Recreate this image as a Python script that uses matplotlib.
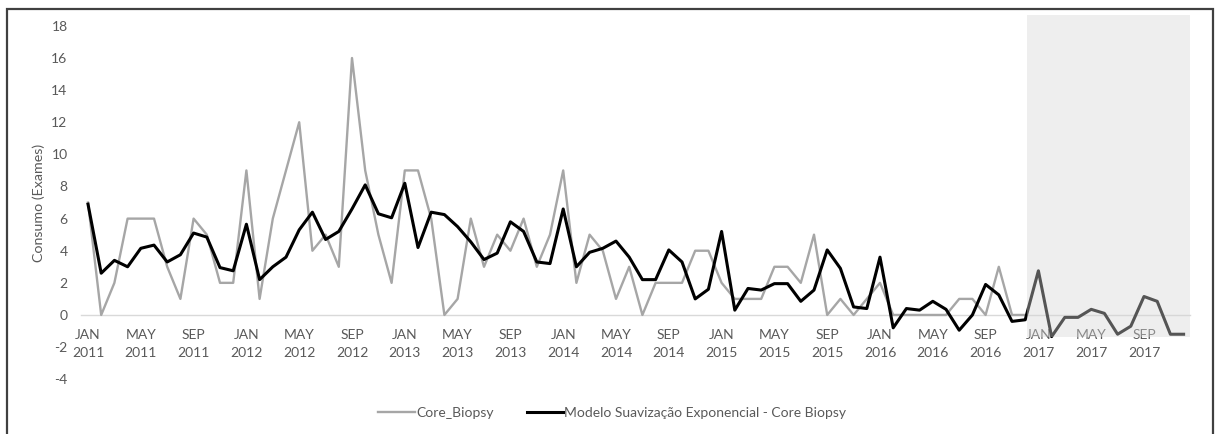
import numpy as np
import matplotlib
matplotlib.use("Agg")
import matplotlib.pyplot as plt
from matplotlib.patches import Rectangle

# monthly data, JAN 2011 .. DEC 2017
month_names = ["JAN", "FEB", "MAR", "APR", "MAY", "JUN",
               "JUL", "AUG", "SEP", "OCT", "NOV", "DEC"]
years = [2011, 2012, 2013, 2014, 2015, 2016, 2017]

# observed exams (JAN 2011 .. DEC 2016)
core_biopsy = [7, 0, 2, 6, 6, 6, 3, 1, 6, 5, 2, 2,
               9, 1, 6, 9, 12, 4, 5, 3, 16, 9, 5, 2,
               9, 9, 6, 0, 1, 6, 3, 5, 4, 6, 3, 5,
               9, 2, 5, 4, 1, 3, 0, 2, 2, 2, 4, 4,
               2, 1, 1, 1, 3, 3, 2, 5, 0, 1, 0, 1,
               2, 0, 0, 0, 0, 0, 1, 1, 0, 3, 0, 0]

# exponential smoothing model (fit JAN 2011 .. DEC 2016 + forecast 2017)
modelo = [6.9, 2.6, 3.4, 3.0, 4.15, 4.35, 3.3, 3.75, 5.1, 4.85, 2.95, 2.75,
          5.65, 2.2, 3.0, 3.6, 5.3, 6.4, 4.7, 5.2, 6.6, 8.1, 6.3, 6.05,
          8.2, 4.2, 6.4, 6.25, 5.5, 4.55, 3.45, 3.85, 5.8, 5.2, 3.3, 3.2,
          6.6, 3.0, 3.9, 4.15, 4.6, 3.6, 2.2, 2.2, 4.05, 3.3, 1.0, 1.6,
          5.2, 0.3, 1.65, 1.55, 1.95, 1.95, 0.85, 1.55, 4.05, 2.9, 0.5, 0.4,
          3.6, -0.8, 0.4, 0.3, 0.85, 0.35, -0.95, 0.0, 1.9, 1.25, -0.4, -0.3,
          2.75, -1.35, -0.15, -0.15, 0.35, 0.1, -1.2, -0.7, 1.15, 0.85, -1.2, -1.2]

y_ticks = list(range(-4, 19, 2))

font = "Lato"
fontsize = 10
font_color = "#595959"

W, H = 1215, 434
fig = plt.figure(figsize=(W / 100, H / 100), dpi=100)
fig.patch.set_facecolor("white")

# plot area placed in pixels
left_px, right_px = 81.4, 1190.2
top_px, bottom_px = 25.9, 379.2
ax = fig.add_axes([left_px / W, 1 - bottom_px / H,
                   (right_px - left_px) / W, (bottom_px - top_px) / H])

n_months = len(years) * 12
x_all = np.arange(n_months)
x_obs = np.arange(len(core_biopsy))

ax.plot(x_obs, core_biopsy, color="#A6A6A6", linewidth=1.7, zorder=3,
        label="Core_Biopsy", solid_joinstyle="round")
ax.plot(x_all[:len(modelo)], modelo, color="black", linewidth=2.2, zorder=4,
        label="Modelo Suavização Exponencial - Core Biopsy", solid_joinstyle="round")

ax.set_xlim(-0.5, n_months - 0.5)
ax.set_ylim(-4, 18)

# category axis crossing at zero
for side in ["top", "right", "left"]:
    ax.spines[side].set_visible(False)
ax.spines["bottom"].set_position(("data", 0))
ax.spines["bottom"].set_color("#D9D9D9")
ax.spines["bottom"].set_linewidth(1.0)

tick_pos = list(range(0, n_months, 4))
tick_lab = [f"{month_names[i % 12]}\n{years[i // 12]}" for i in tick_pos]
ax.set_xticks(tick_pos)
ax.set_xticklabels(tick_lab, fontsize=fontsize, family=font, color=font_color,
                   linespacing=1.65)
ax.tick_params(axis="x", length=0, pad=10)

ax.set_yticks(y_ticks)
ax.set_yticklabels([str(v) for v in y_ticks], fontsize=fontsize, family=font,
                   color=font_color)
ax.tick_params(axis="y", length=0, pad=10)

ax.set_ylabel("Consumo (Exames)", fontsize=fontsize + 0.3, family=font, color=font_color)
ax.yaxis.set_label_coords(-0.033, 0.5)

# translucent forecast box over 2017
forecast_start = len(core_biopsy) - 1 + 0.14
shade = Rectangle((forecast_start, -1.37), (n_months - 0.5) - forecast_start, 18.7 + 1.37,
                  facecolor=(0.84, 0.84, 0.84), alpha=0.4, edgecolor="none",
                  zorder=10, clip_on=False)
ax.add_patch(shade)

leg = fig.legend(loc="center", bbox_to_anchor=(0.504, 1 - 413 / H), ncol=2,
                 frameon=False, handlelength=2.6, handletextpad=0.1,
                 columnspacing=2.4, prop={"family": font, "size": fontsize})
for txt in leg.get_texts():
    txt.set_color(font_color)

# outer frame of the chart
frame = Rectangle((7 / W, -0.05), (1213 - 7) / W, 1.05 - 9 / H,
                  transform=fig.transFigure, facecolor="none",
                  edgecolor="#404040", linewidth=1.6)
fig.patches.append(frame)

fig.savefig("out.png", dpi=100, facecolor="white")
